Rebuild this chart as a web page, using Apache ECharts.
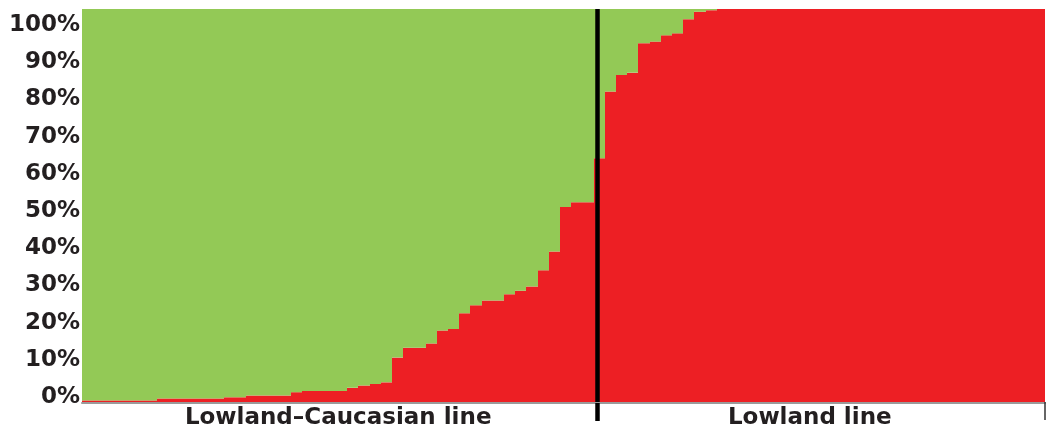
<!DOCTYPE html>
<html>
<head>
<meta charset="utf-8">
<script src="https://cdn.jsdelivr.net/npm/echarts@6/dist/echarts.min.js"></script>
<style>
  html, body { margin: 0; padding: 0; background: #fff; }
  #main { width: 1046px; height: 430px; }
</style>
</head>
<body>
<div id="main"></div>
<script>
// ancestry proportion of the red cluster for each individual (%), sorted
var red = [
  0.4, 0.4, 0.4, 0.4, 0.4, 0.4, 0.4,
  0.9, 0.9, 0.9, 0.9, 0.9, 0.9,
  1.2, 1.2,
  1.65, 1.65, 1.65, 1.65,
  2.5, 2.8, 2.8, 2.8, 2.8,
  3.6, 4.2, 4.6, 5.0,
  11.3, 13.8, 13.8, 14.9, 18.2, 18.6, 22.6, 24.6, 25.8, 25.8,
  27.4, 28.3, 29.4, 33.5, 38.3, 49.6, 50.8, 50.8,
  62.0,
  79.0, 83.2, 83.8, 91.3, 91.7, 93.3, 93.8, 97.4, 99.3, 99.7,
  100, 100, 100, 100, 100, 100, 100, 100, 100, 100,
  100, 100, 100, 100, 100, 100, 100, 100, 100, 100,
  100, 100, 100, 100, 100, 100, 100, 100, 100, 100
];
var groupNames = ['Lowland\u2013Caucasian line', 'Lowland line'];
var groupCenters = [23.2, 65.3];
var splitAt = 46.33;
var yTicks = [0, 10, 20, 30, 40, 50, 60, 70, 80, 90, 100];

var myChart = echarts.init(document.getElementById('main'));

// each individual is one column [index, from %, to %]; green is the remainder
var redData = red.map(function (v, i) { return [i, 0, v]; });
var greenData = red.map(function (v, i) { return [i, v, 100]; });

function column(color) {
  return function (params, api) {
    var x = api.value(0);
    var p0 = api.coord([x, api.value(2)]);
    var p1 = api.coord([x + 1, api.value(1)]);
    var left = Math.round(p0[0]), right = Math.round(p1[0]);
    var rect = echarts.graphic.clipRectByRect(
      { x: left, y: p0[1], width: right - left, height: p1[1] - p0[1] },
      { x: params.coordSys.x, y: params.coordSys.y, width: params.coordSys.width, height: params.coordSys.height }
    );
    if (!rect) return;
    return { type: 'rect', shape: rect, style: { fill: color } };
  };
}

var option = {
  animation: false,
  grid: { left: 82, right: 1, top: 9, bottom: 27.5 },
  xAxis: [{
    type: 'value',
    min: 0.33,
    max: 86.3,
    offset: 1,
    axisLine: { show: true, onZero: false, lineStyle: { color: '#9a9a9a', width: 2 } },
    axisTick: { show: true, customValues: [splitAt], length: 18, lineStyle: { color: '#000', width: 4.5 } },
    axisLabel: {
      customValues: groupCenters,
      formatter: function (v) { return v < splitAt ? groupNames[0] : groupNames[1]; },
      fontFamily: 'DejaVu Sans',
      fontWeight: 'bold',
      fontSize: 23,
      color: '#231f20',
      margin: 4
    },
    splitLine: { show: false }
  }, {
    type: 'value',
    min: 0.33,
    max: 86.3,
    position: 'bottom',
    offset: 1,
    axisLine: { show: false },
    axisTick: { show: true, customValues: [86.3], length: 18, lineStyle: { color: '#333', width: 1.5 } },
    axisLabel: { show: false },
    splitLine: { show: false }
  }],
  yAxis: [{
    type: 'value',
    min: 0,
    max: 100,
    show: false
  }, {
    type: 'value',
    position: 'left',
    min: -1.34,
    max: 104.3,
    axisLine: { show: false },
    axisTick: { show: false },
    splitLine: { show: false },
    axisLabel: {
      customValues: yTicks,
      formatter: '{value}%',
      fontFamily: 'DejaVu Sans',
      fontWeight: 'bold',
      fontSize: 23,
      color: '#231f20',
      margin: 2
    }
  }],
  series: [{
    type: 'custom',
    name: 'red',
    xAxisIndex: 0,
    yAxisIndex: 0,
    encode: { x: 0, y: [1, 2] },
    renderItem: column('#ed1f24'),
    data: redData
  }, {
    type: 'custom',
    name: 'green',
    xAxisIndex: 0,
    yAxisIndex: 0,
    encode: { x: 0, y: [1, 2] },
    renderItem: column('#93c956'),
    data: greenData
  }, {
    type: 'line',
    xAxisIndex: 0,
    yAxisIndex: 0,
    data: [],
    z: 10,
    markLine: {
      silent: true,
      symbol: 'none',
      label: { show: false },
      lineStyle: { color: '#000', width: 4.5, type: 'solid' },
      data: [{ xAxis: splitAt }]
    }
  }]
};
myChart.setOption(option);
</script>
</body>
</html>
